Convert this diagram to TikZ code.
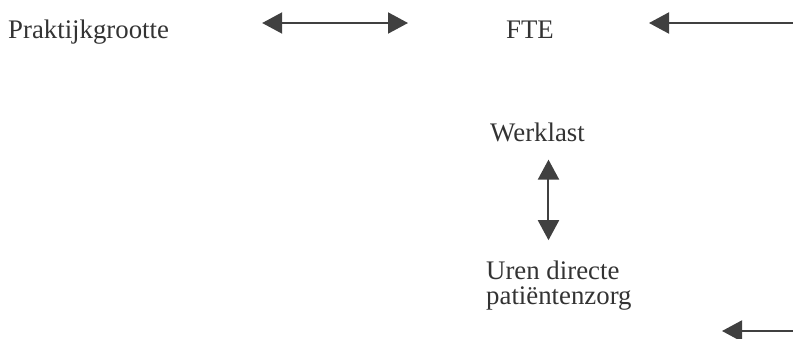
\documentclass[tikz,border=0pt]{standalone}
\usepackage{fontspec}
\setmainfont{Liberation Serif}
\usetikzlibrary{arrows.meta}

\begin{document}
\begin{tikzpicture}[x=1pt,y=-1pt]
  % Styles for labels and arrows
  \tikzset{
    label text/.style={inner sep=0pt, text=black!80, font=\fontsize{26.8}{25}\selectfont},
    link/.style={draw=black!75, line width=2pt, -{Triangle[length=20pt,width=21pt]}},
    twolink/.style={link, {Triangle[length=20pt,width=21pt]}-{Triangle[length=20pt,width=21pt]}}
  }
  \useasboundingbox (0,0) rectangle (793,338);

  % Labels
  \node[label text, anchor=base west] (prak) at (8,38) {Praktijkgrootte};
  \node[label text, anchor=base west] (fte) at (506,38) {FTE};
  \node[label text, anchor=base west] (werk) at (490,141) {Werklast};
  \node[label text, anchor=base west, align=left] (uren) at (486,304) {Uren directe\\patiëntenzorg};

  % Free ends at the right border
  \coordinate (inTop) at (793,23);
  \coordinate (inBot) at (793,331);
  \coordinate (mid) at ([xshift=11pt]werk.south);

  % Arrows
  \draw[twolink, shorten <=93pt, shorten >=98pt] (prak.east |- inTop) -- (fte.west |- inTop);
  \draw[link] (inTop) -- ++(-144,0);
  \draw[twolink, shorten <=18pt, shorten >=20pt] (mid) -- (mid |- uren.north);
  \draw[link] (inBot) -- ++(-71,0);
\end{tikzpicture}
\end{document}
